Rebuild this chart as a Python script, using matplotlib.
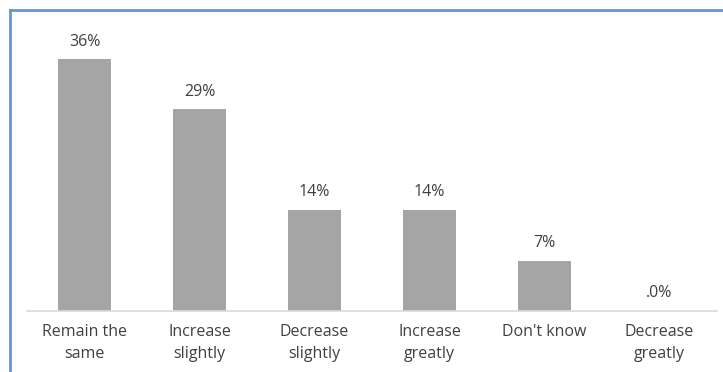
import matplotlib
matplotlib.use("Agg")
import matplotlib.pyplot as plt
from matplotlib.lines import Line2D

categories = ["Remain the\nsame", "Increase\nslightly", "Decrease\nslightly",
              "Increase\ngreatly", "Don't know", "Decrease\ngreatly"]
values = [35.7, 28.6, 14.3, 14.3, 7.1, 0.0]
labels = ["36%", "29%", "14%", "14%", "7%", ".0%"]

plt.rcParams['font.family'] = ['Open Sans', 'DejaVu Sans']

W, H = 723, 372
fig = plt.figure(figsize=(W / 100, H / 100), dpi=100)
ax = fig.add_axes([27 / W, 61 / H, 690 / W, 282 / H])

x = range(len(categories))
ax.bar(x, values, width=0.46, color="#A5A5A5")
for i, (v, lab) in enumerate(zip(values, labels)):
    ax.annotate(lab, (i, v), xytext=(0, 7), textcoords="offset points",
                ha="center", va="bottom", fontsize=11.5, color="#404040")

ax.set_xlim(-0.5, len(categories) - 0.5)
ax.set_ylim(0, 40)
ax.set_yticks([])
ax.set_xticks(list(x))
ax.set_xticklabels(categories, fontsize=11.5, color="#404040", linespacing=1.55)
ax.tick_params(axis="x", length=0, pad=9)
for s in ["top", "right", "left"]:
    ax.spines[s].set_visible(False)
ax.spines["bottom"].set_color("#D9D9D9")
ax.spines["bottom"].set_linewidth(1.2)

# chart frame (top and left edges visible in the crop)
fig.add_artist(Line2D([10 / W, 10 / W], [0, 1 - 9.5 / H], transform=fig.transFigure,
                      color="#5B9BD5", lw=2))
fig.add_artist(Line2D([10 / W, 1], [1 - 9.5 / H, 1 - 9.5 / H], transform=fig.transFigure,
                      color="#5B9BD5", lw=2))

fig.savefig("out.png", dpi=100)
